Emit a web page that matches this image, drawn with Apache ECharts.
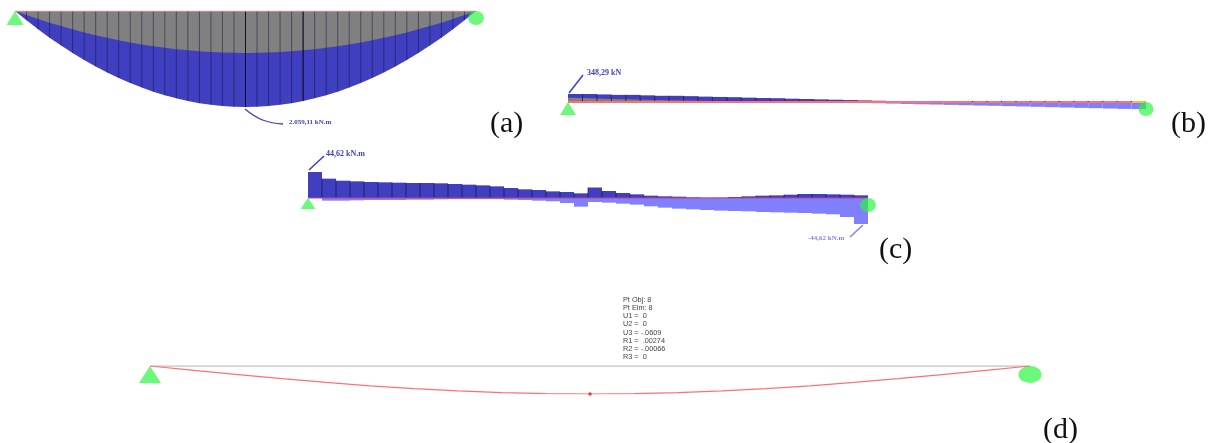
<!DOCTYPE html>
<html>
<head>
<meta charset="utf-8">
<title>Beam diagrams</title>
<script src="https://cdn.jsdelivr.net/npm/echarts@6/dist/echarts.min.js"></script>
<style>
html, body { margin: 0; padding: 0; background: #fff; }
#chart, #letters { position: absolute; left: 0; top: 0; width: 1212px; height: 443px; }
#chart { filter: blur(0.55px); }
</style>
</head>
<body>
<div id="chart"></div>
<div id="letters"></div>
<script>
// (a) bending moment and the grey shape, kN.m per station
const momentStations = [0, 200, 391, 572, 741, 901, 1050, 1189, 1318, 1436, 1544, 1642, 1730, 1807, 1874, 1931, 1977, 2013, 2038, 2054, 2059.11,
  2054, 2038, 2013, 1977, 1931, 1874, 1807, 1730, 1642, 1544, 1436, 1318, 1189, 1050, 901, 741, 572, 391, 200, 0];
const momentGrey = [0, 88, 171, 250, 324, 394, 459, 520, 576, 628, 675, 718, 756, 790, 819, 844, 864, 880, 891, 898, 900,
  898, 891, 880, 864, 844, 819, 790, 756, 718, 675, 628, 576, 520, 459, 394, 324, 250, 171, 88, 0];
const momentHeavyTicks = [20, 25];

// (b) shear, kN per segment
const shearPositive = [348, 348, 330, 310, 310, 290, 270, 270, 255, 235, 220, 210, 190, 175, 165, 145, 130, 115, 100, 85,
  70, 55, 40, 25, 10, 0, 0, 0, 0, 0, 0, 0, 0, 0, 0, 0, 0, 0, 0, 0];
const shearNegative = [0, 0, 0, 0, 0, 0, 0, 0, 0, 0, 0, 0, 0, 0, 0, 0, 0, 0, 0, -30,
  -40, -55, -70, -85, -100, -110, -125, -140, -155, -165, -180, -195, -210, -225, -240, -255, -270, -285, -300, -310];
const shearGrey = [190, 170, 150, 130, 115, 100, 90, 75, 65, 55, 45, 35, 25, 20, 15, 10, 5, 0, 0, 0];
const shearShortTicks = [0, 0, 0, 0, 0, 0, 0, 0, 0, 0, 0, 0, 0, 0, 0, 0, 0, 0, 0, 0,
  0, 0, 0, 0, 0, 0, 0, 0, 45, 45, 45, 45, 45, 45, 45, 45, 45, 45, 45, 45];

// (c) torsion, kN.m per segment
const torsionPositive = [44.62, 33.2, 29.7, 28.6, 27.5, 26.9, 26.3, 25.7, 25.7, 25.2, 24, 22.9, 21.7, 20, 17.2, 14.9, 13.7, 11.4, 10.3, 8,
  18, 12, 8.6, 6.3, 4, 2.9, 2.3, 1.1, 0.6, 0.6, 1.7, 2.9, 4, 4.5, 5.7, 6.9, 6.9, 6.3, 5.7, 4.6];
const torsionNegative = [0, -4.6, -4.6, -4, -3.4, -3.4, -3.4, -2.9, -2.9, -2.3, -2, -2, -2, -2, -2.9, -3.4, -4.6, -5.7, -8.6, -14.9,
  -6.9, -8, -9.7, -11.4, -14.3, -16.6, -18.3, -19.4, -20.6, -21.7, -22.3, -22.9, -24, -24.6, -25.2, -25.7, -26.9, -28, -32.6, -44.62];

// (d) deflected shape, m, at every 5% of the span
const deflection = [0, 0.0095, 0.0188, 0.0276, 0.0358, 0.0431, 0.0493, 0.0543, 0.0579, 0.0601, 0.0609,
  0.0601, 0.0579, 0.0543, 0.0493, 0.0431, 0.0358, 0.0276, 0.0188, 0.0095, 0];

const pointInfo = ['Pt Obj: 8', 'Pt Elm: 8', 'U1 =  0', 'U2 =  0', 'U3 = -.0609', 'R1 =  .00274', 'R2 = -.00066', 'R3 =  0'];

const DARK_BLUE = '#3f3fc0';
const LIGHT_BLUE = '#8080ff';
const GREY = '#808080';
const RED = '#ff7070';
const GREEN = 'rgba(40, 245, 60, 0.85)';

const withIndex = values => values.map((v, i) => [i, v]);

function baseCustom(index, data, z, renderItem) {
  return { type: 'custom', xAxisIndex: index, yAxisIndex: index, z, silent: true, animation: false, data, renderItem };
}

// one stepped block per segment, read through the grid's own scales
function segmentSeries(index, values, fill, z) {
  return baseCustom(index, withIndex(values), z, (params, api) => {
    const i = api.value(0);
    const start = api.coord([i, 0]);
    const end = api.coord([i + 1, api.value(1)]);
    return {
      type: 'rect',
      shape: {
        x: start[0],
        y: Math.min(start[1], end[1]),
        width: end[0] - start[0],
        height: Math.abs(end[1] - start[1])
      },
      style: { fill }
    };
  });
}

// vertical divider from the beam line to the value at the left of a segment
function tickSeries(index, points, color, z) {
  return baseCustom(index, points, z, (params, api) => {
    const i = api.value(0);
    const from = api.coord([i, 0]);
    const to = api.coord([i, api.value(1)]);
    if (i === 0) {
      return null;
    }
    return {
      type: 'line',
      shape: { x1: from[0], y1: from[1], x2: to[0], y2: to[1] },
      style: { stroke: color, lineWidth: 1 }
    };
  });
}

function lineSeries(index, points, color, width, z, area) {
  const series = {
    type: 'line',
    xAxisIndex: index,
    yAxisIndex: index,
    z,
    silent: true,
    animation: false,
    showSymbol: false,
    lineStyle: { color, width },
    data: points
  };
  if (area) {
    series.areaStyle = { color: area, opacity: 1 };
  }
  return series;
}

function supportSeries(index, last, triangleSize, circleSize) {
  return [
    {
      type: 'scatter', xAxisIndex: index, yAxisIndex: index, z: 7, silent: true, animation: false,
      symbol: 'triangle', symbolSize: triangleSize, symbolOffset: [0, '50%'],
      itemStyle: { color: GREEN }, data: [[0, 0]]
    },
    {
      type: 'scatter', xAxisIndex: index, yAxisIndex: index, z: 7, silent: true, animation: false,
      symbol: 'circle', symbolSize: circleSize, symbolOffset: [0, '50%'],
      itemStyle: { color: GREEN }, data: [[last, 0]]
    }
  ];
}

const hiddenX = (max, gridIndex) => ({ type: 'value', show: false, min: 0, max, gridIndex });
const hiddenY = (min, max, gridIndex, inverse) => ({ type: 'value', show: false, min, max, gridIndex, inverse: !!inverse, scale: true });

function label(text, x, y, fontSize, fontFamily, fill, fontWeight) {
  return {
    type: 'text',
    silent: true,
    style: { text, x, y, fontSize, fontFamily, fill, fontWeight: fontWeight || 'normal', verticalAlign: 'middle' }
  };
}

const chart = echarts.init(document.getElementById('chart'), null, { renderer: 'canvas' });

chart.setOption({
  backgroundColor: '#fff',
  animation: false,
  grid: [
    { left: 15, top: 11, width: 461, height: 96 },
    { left: 568, top: 94, width: 578, height: 16 },
    { left: 308, top: 172, width: 560, height: 52 },
    { left: 150, top: 366, width: 880, height: 28 }
  ],
  xAxis: [hiddenX(40, 0), hiddenX(40, 1), hiddenX(40, 2), hiddenX(20, 3)],
  yAxis: [
    hiddenY(0, 2059.11, 0, true),
    hiddenY(-348.29, 348.29, 1),
    hiddenY(-44.62, 44.62, 2),
    hiddenY(0, 0.0609, 3, true)
  ],
  series: [
    // (a)
    lineSeries(0, withIndex(momentStations), DARK_BLUE, 0, 1, DARK_BLUE),
    lineSeries(0, withIndex(momentGrey), GREY, 0, 2, GREY),
    tickSeries(0, withIndex(momentStations), 'rgba(20, 20, 60, 0.5)', 3),
    tickSeries(0, withIndex(momentStations).filter(d => momentHeavyTicks.includes(d[0])), 'rgba(10, 10, 30, 0.9)', 3),
    lineSeries(0, [[0, 0], [40, 0]], '#e8a0a0', 1, 4),
    ...supportSeries(0, 40, [17, 14], [16, 14]),
    // (b)
    segmentSeries(1, shearNegative, LIGHT_BLUE, 1),
    segmentSeries(1, shearPositive, DARK_BLUE, 2),
    lineSeries(1, withIndex(shearGrey), GREY, 0, 3, GREY),
    tickSeries(1, withIndex(shearPositive), 'rgba(20, 20, 60, 0.8)', 4),
    lineSeries(1, [[0, 0], [40, 0]], RED, 1.8, 5),
    lineSeries(1, [[39, 0], [40, 0]], '#ffc040', 1.8, 5),
    tickSeries(1, withIndex(shearShortTicks), 'rgba(20, 20, 60, 0.8)', 6),
    ...supportSeries(1, 40, [16, 13], [15, 14]),
    // (c)
    segmentSeries(2, torsionNegative, LIGHT_BLUE, 1),
    segmentSeries(2, torsionPositive, DARK_BLUE, 2),
    tickSeries(2, withIndex(torsionPositive), 'rgba(20, 20, 60, 0.65)', 3),
    lineSeries(2, [[0, 0], [40, 0]], '#c84080', 1, 5),
    ...supportSeries(2, 40, [15, 11], [16, 14]),
    // (d)
    lineSeries(3, [[0, 0], [20, 0]], '#c4c4c4', 1.6, 1),
    lineSeries(3, withIndex(deflection), RED, 1.2, 2),
    {
      type: 'scatter', xAxisIndex: 3, yAxisIndex: 3, z: 5, silent: true, animation: false,
      symbol: 'circle', symbolSize: 3.5, itemStyle: { color: '#ee1010' }, data: [[10, 0.0609]]
    },
    ...supportSeries(3, 20, [22, 17], [23, 17])
  ],
  graphic: [
    // leader lines
    { type: 'bezierCurve', silent: true, shape: { x1: 245, y1: 109, cpx1: 258, cpy1: 120, x2: 283, y2: 124, cpx2: 268, cpy2: 123 }, style: { stroke: DARK_BLUE, lineWidth: 1.3, fill: 'none' } },
    { type: 'line', silent: true, shape: { x1: 569, y1: 93, x2: 583, y2: 75 }, style: { stroke: DARK_BLUE, lineWidth: 1.5 } },
    { type: 'line', silent: true, shape: { x1: 309, y1: 170, x2: 324, y2: 156 }, style: { stroke: DARK_BLUE, lineWidth: 1.5 } },
    { type: 'line', silent: true, shape: { x1: 850, y1: 237, x2: 863, y2: 225 }, style: { stroke: LIGHT_BLUE, lineWidth: 1.5 } },
    // value labels
    label('2.059,11 kN.m', 289, 122, 7, '"Liberation Serif"', DARK_BLUE, 'bold'),
    label('348,29 kN', 587, 73, 8, '"Liberation Serif"', DARK_BLUE, 'bold'),
    label('44,62 kN.m', 326, 154, 8, '"Liberation Serif"', DARK_BLUE, 'bold'),
    label('-44,62 kN.m', 808, 238, 7, '"Liberation Serif"', LIGHT_BLUE, 'bold'),
    // point info block
    ...pointInfo.map((text, i) => label(text, 623, 300 + i * 8.15, 7.3, '"Liberation Sans"', '#444'))
  ]
});

// panel letters stay sharp, on their own layer
const letters = echarts.init(document.getElementById('letters'), null, { renderer: 'canvas' });

letters.setOption({
  graphic: [
    label('(a)', 490, 124, 30, '"Liberation Serif"', '#111'),
    label('(b)', 1171, 124, 30, '"Liberation Serif"', '#111'),
    label('(c)', 879, 250, 30, '"Liberation Serif"', '#111'),
    label('(d)', 1043, 430, 30, '"Liberation Serif"', '#111')
  ]
});
</script>
</body>
</html>
